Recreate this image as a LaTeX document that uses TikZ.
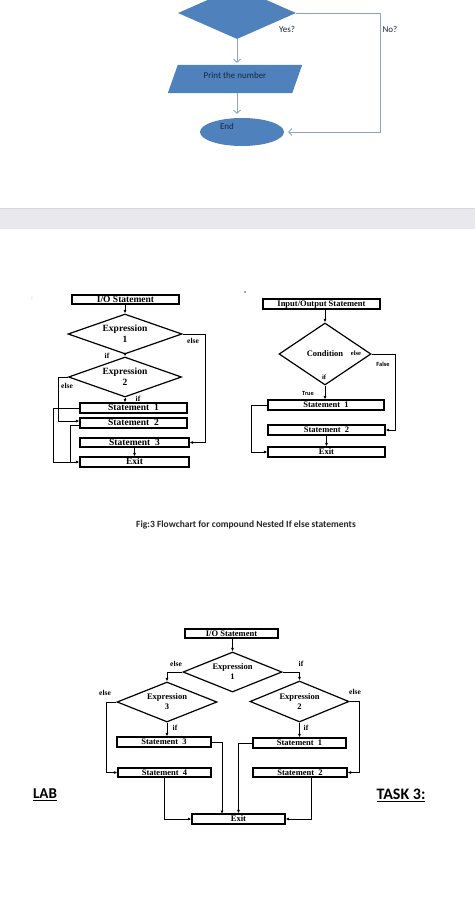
\documentclass[tikz,border=0pt]{standalone}
\usepackage{fontspec}
\setmainfont{Liberation Serif}
\newfontfamily\cbr{Carlito}
\usetikzlibrary{shapes.geometric,arrows.meta,positioning}
\definecolor{offblue}{HTML}{4F81BD}
\definecolor{offline}{HTML}{8AA4CC}
\definecolor{offtext}{HTML}{1A2640}
\definecolor{bandgray}{HTML}{E8E8ED}
\definecolor{bandedge}{HTML}{D6D7DA}

\begin{document}
\begin{tikzpicture}[x=1pt,y=-1pt,
topdec/.style={diamond,fill=offblue,inner sep=0pt},
toparr/.style={draw=offline,line width=0.9pt,-{Straight Barb[length=3pt,width=7pt]}},
toptxt/.style={text=offtext,font=\cbr\fontsize{9}{10}\selectfont},
box/.style={draw,line width=1.2pt,inner sep=0pt,minimum height=10pt,text height=6.5pt,text depth=1pt},
dec/.style={diamond,draw,line width=1.2pt,inner sep=0pt,align=center},
arr/.style={line width=1pt,-{Latex[length=3.5pt,width=3pt]}},
big/.style={font=\fontsize{9.5}{11}\selectfont\bfseries},
mid/.style={font=\fontsize{8.5}{10}\selectfont\bfseries},
lbl/.style={font=\fontsize{7.5}{8}\selectfont\bfseries},
tiny/.style={font=\cbr\fontsize{6.3}{7}\selectfont\bfseries}]
\useasboundingbox (0,0) rectangle (475,912);
\clip (0,0) rectangle (475,912);
\fill[white] (0,0) rectangle (475,912);
% top part
\node[topdec,minimum width=118,minimum height=52] (chk) at (237,13) {};
\node[inner sep=0pt,minimum width=124,minimum height=28] (prn) at (235,79) {};
\fill[offblue] ([xshift=5pt]prn.north west) -- ([xshift=5pt]prn.north east) -- ([xshift=-5pt]prn.south east) -- ([xshift=-5pt]prn.south west) -- cycle;
\node[toptxt] (prntxt) at (235,75) {Print the number};
\node[ellipse,fill=offblue,inner sep=0pt,minimum width=84,minimum height=28] (fin) at (242,132) {};
\node[toptxt] (fintxt) at (227,126) {End};
\node[toptxt] (yes) at (287,29) {Yes?};
\node[toptxt] (no) at (390,29) {No?};
\coordinate (nocorner) at (380,132);
\draw[toparr,shorten >=2pt] (chk.south) -- (chk.south |- prn.north);
\draw[toparr,shorten >=4pt] (prn.south -| chk.south) -- (fin.north -| chk.south);
\draw[toparr,shorten >=4pt] (chk.east) -| (nocorner) -- (fin.east);
\fill[bandgray] (0,208) rectangle (475,229);
\draw[bandedge,line width=1pt] (0,208.5) -- (475,208.5);
\node[text=gray,font=\fontsize{5}{6}\selectfont] (dots) at (32,298) {:};
\fill[black!70] (245,292) circle (0.8);
% left chart
\node[box,big,minimum width=107,minimum height=9] (io1) at (125.5,299.5) {I/O Statement};
\node[dec,big,aspect=2.85,minimum width=114,minimum height=40] (e1) at (125,334) {Expression\\1};
\node[dec,big,aspect=2.85,minimum width=113,minimum height=40] (e2) at (125,377) {Expression\\2};
\node[box,big,minimum width=107] (s1) at (133.5,408) {Statement\ \ 1};
\node[box,big,minimum width=107] (s2) at (133.5,423) {Statement\ \ 2};
\node[box,big,minimum width=109,minimum height=9] (s3) at (134.5,442.5) {Statement\ \ 3};
\node[box,big,minimum width=109] (ex1) at (134.5,462) {Exit};
\coordinate (r1) at (205,442.5);
\coordinate (l2) at (58,421);
\coordinate (l1) at (53,462);
\coordinate (j1) at (70,462);
\draw[arr] (io1.south -| e1.north) -- (e1.north);
\draw[arr] (e1.south) -- (e2.north);
\draw[arr] (e2.south) -- (e2.south |- s1.north);
\draw[arr] (e1.east) -| (r1) -- (s3.east);
\draw[arr] (e2.west) -| (l2) -- (l2 -| s2.west);
\draw[arr] (s1.west) -| (l1) -- (ex1.west);
\draw[line width=1pt] ([yshift=-2.5pt]s2.west) -| (j1);
\draw[arr] (s3.south) -- (ex1.north);
\node[lbl] (else1) at (193,341) {else};
\node[lbl] (if1) at (107,356) {if};
\node[lbl] (else2) at (67,386) {else};
\node[lbl] (if2) at (138,399) {if};
% right chart
\node[box,mid,minimum width=117] (io2) at (321.5,304) {Input/Output Statement};
\node[dec,mid,aspect=1.5,minimum width=92,minimum height=62] (cnd) at (325,354) {Condition};
\node[box,mid,minimum width=116] (s1r) at (326,405) {Statement\ \ 1};
\node[box,mid,minimum width=117] (s2r) at (326.5,430) {Statement\ \ 2};
\node[box,mid,minimum width=117] (exr) at (326.5,452) {Exit};
\coordinate (r2) at (395,430);
\coordinate (l3) at (251,452);
\draw[arr] (cnd.north |- io2.south) -- (cnd.north);
\draw[arr] (cnd.south) -- (cnd.south |- s1r.north);
\draw[arr] (cnd.east) -| (r2) -- (s2r.east);
\draw[arr] (s1r.west) -| (l3) -- (exr.west);
\draw[arr] (s2r.south) -- (exr.north);
\node[font=\fontsize{6.5}{7}\selectfont\bfseries] (else3) at (356,353) {else};
\node[font=\fontsize{6.5}{7}\selectfont\bfseries] (if3) at (324,377) {if};
\node[tiny] (false) at (383,364) {False};
\node[tiny] (true) at (308,393) {True};
\node[font=\cbr\bfseries\fontsize{9.5}{11}\selectfont,text=black!85] (cap) at (246,525) {Fig:3 Flowchart for compound Nested If else statements};
% bottom chart
\node[box,mid,minimum width=93,minimum height=9] (io3) at (231.5,633.5) {I/O Statement};
\node[dec,mid,aspect=2.5,minimum width=99,minimum height=40] (d1) at (232.5,672) {Expression\\1};
\node[dec,mid,aspect=2.5,minimum width=100,minimum height=40] (d3) at (167,702) {Expression\\3};
\node[dec,mid,aspect=2.5,minimum width=99,minimum height=41] (d2) at (299.5,701.5) {Expression\\2};
\node[box,mid,minimum width=94] (st3) at (164,742) {Statement\ \ 3};
\node[box,mid,minimum width=93,minimum height=9] (st4) at (164.5,772.5) {Statement\ \ 4};
\node[box,mid,minimum width=93] (st1) at (299.5,743) {Statement\ \ 1};
\node[box,mid,minimum width=94,minimum height=9] (st2) at (300,772.5) {Statement\ \ 2};
\node[box,mid,minimum width=93] (exb) at (238.5,819) {Exit};
\coordinate (b3) at (106,772.5);
\coordinate (b2) at (359,772.5);
\coordinate (m3) at (222,814);
\draw[arr] (io3.south -| d1.north) -- (d1.north);
\draw[arr] (d1.west) -| (d3.north);
\draw[arr] (d1.east) -| (d2.north);
\draw[arr] (d3.west) -| (b3) -- (st4.west);
\draw[arr] (d3.south) -- (d3.south |- st3.north);
\draw[arr] (d2.east) -| (b2) -- (st2.east);
\draw[arr] (d2.south) -- (d2.south |- st1.north);
\draw[arr] (st3.east) -| (m3);
\draw[arr] (st1.west) -| (exb.north);
\draw[arr] (st4.south) |- (exb.west);
\draw[arr] ([xshift=11pt]st2.south) |- (exb.east);
\node[lbl] (else4) at (176,664) {else};
\node[lbl] (if4) at (301,664) {if};
\node[lbl] (else5) at (105,693) {else};
\node[lbl] (if5) at (175,728) {if};
\node[lbl] (else6) at (355,692) {else};
\node[lbl] (if6) at (306,728) {if};
\node[font=\cbr\bfseries\fontsize{15}{17}\selectfont] (lab) at (45,795) {\underline{LAB}};
\node[font=\cbr\bfseries\fontsize{16}{18}\selectfont] (task) at (401,795) {\underline{TASK 3:}};
\end{tikzpicture}
\end{document}
